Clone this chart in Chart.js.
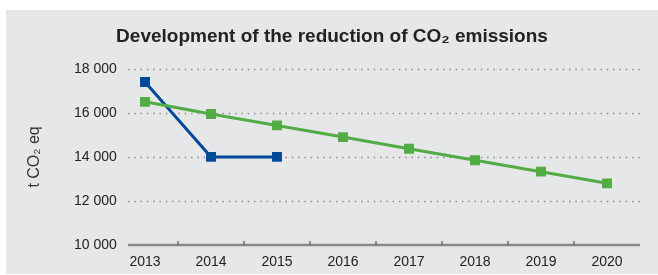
<!DOCTYPE html>
<html>
<head>
<meta charset="utf-8">
<script src="https://cdn.jsdelivr.net/npm/chart.js@4"></script>
<style>
    body { margin: 0; background: #fff; }
    #box { position: absolute; left: 6px; top: 10px; width: 652px; height: 264px; background: #e6e7e9; }
</style>
</head>
<body>
<div id="box"><canvas id="chart" width="652" height="264"></canvas></div>
<script>
const years = ['2013', '2014', '2015', '2016', '2017', '2018', '2019', '2020'];
const actual = [17400, 14000, 14000, null, null, null, null, null];
const target = [16500, 15950, 15430, 14900, 14370, 13850, 13330, 12800];
const yTicks = [10000, 12000, 14000, 16000, 18000];

const blue = 'rgb(0, 72, 152)';
const green = 'rgb(82, 172, 68)';

// dotted grid, axis line and the small ticks between years
const gridLines = {
    id: 'gridLines',
    beforeDatasetsDraw(chart) {
        const { ctx, chartArea, scales } = chart;
        const x0 = chartArea.left + 16;
        const x1 = chartArea.right;

        ctx.save();
        ctx.strokeStyle = '#8e8e8e';
        ctx.lineWidth = 1.5;
        ctx.setLineDash([1.5, 4.8]);
        yTicks.slice(1).forEach((v) => {
            const y = Math.round(scales.y.getPixelForValue(v)) + 0.5;
            ctx.beginPath();
            ctx.moveTo(x0, y);
            ctx.lineTo(x1, y);
            ctx.stroke();
        });

        ctx.setLineDash([]);
        ctx.strokeStyle = '#8a8a8a';
        ctx.lineWidth = 2.5;
        const yb = scales.y.getPixelForValue(yTicks[0]);
        ctx.beginPath();
        ctx.moveTo(x0, yb);
        ctx.lineTo(x1, yb);
        ctx.stroke();

        ctx.strokeStyle = '#555';
        ctx.lineWidth = 1.2;
        for (let i = 0; i < years.length - 1; i++) {
            const x = (scales.x.getPixelForValue(i) + scales.x.getPixelForValue(i + 1)) / 2;
            ctx.beginPath();
            ctx.moveTo(x, yb - 4);
            ctx.lineTo(x, yb);
            ctx.stroke();
        }
        ctx.restore();
    }
};

new Chart(document.getElementById('chart'), {
    type: 'line',
    data: {
        labels: years,
        datasets: [{
            data: target,
            borderColor: green,
            backgroundColor: green,
            borderWidth: 3,
            pointStyle: 'rect',
            pointRadius: 7,
            pointBorderWidth: 0
        }, {
            data: actual,
            borderColor: blue,
            backgroundColor: blue,
            borderWidth: 3,
            pointStyle: 'rect',
            pointRadius: 7,
            pointBorderWidth: 0
        }]
    },
    options: {
        responsive: false,
        animation: false,
        layout: { padding: 0 },
        plugins: {
            legend: { display: false },
            tooltip: { enabled: false },
            title: {
                display: true,
                text: 'Development of the reduction of CO₂ emissions',
                color: '#222',
                font: { family: 'Liberation Sans', size: 19, weight: 'bold' },
                padding: { top: 15, bottom: 21 }
            }
        },
        scales: {
            x: {
                offset: true,
                grid: { display: false, drawTicks: false },
                border: { display: false },
                ticks: {
                    color: '#222',
                    padding: 9,
                    font: { family: 'Liberation Sans', size: 14 }
                },
                afterFit: (scale) => { scale.height = 29; }
            },
            y: {
                min: 10000,
                max: 18000,
                grid: { display: false, drawTicks: false },
                border: { display: false },
                afterBuildTicks: (scale) => { scale.ticks = yTicks.map(v => ({ value: v })); },
                ticks: {
                    color: '#222',
                    mirror: true,
                    padding: -38,
                    font: { family: 'Liberation Sans', size: 14 },
                    callback: (v) => String(v).replace(/(\d+)(\d{3})$/, '$1 $2')
                },
                title: {
                    display: true,
                    text: 't CO₂ eq',
                    color: '#333',
                    font: { family: 'Liberation Sans', size: 16 },
                    padding: { top: 19, bottom: 0 }
                },
                afterFit: (scale) => { scale.width = 106; }
            },
            // empty right-hand margin
            y2: {
                position: 'right',
                grid: { display: false, drawTicks: false },
                border: { display: false },
                ticks: { display: false },
                afterFit: (scale) => { scale.width = 18; }
            }
        }
    },
    plugins: [gridLines]
});
</script>
</body>
</html>
